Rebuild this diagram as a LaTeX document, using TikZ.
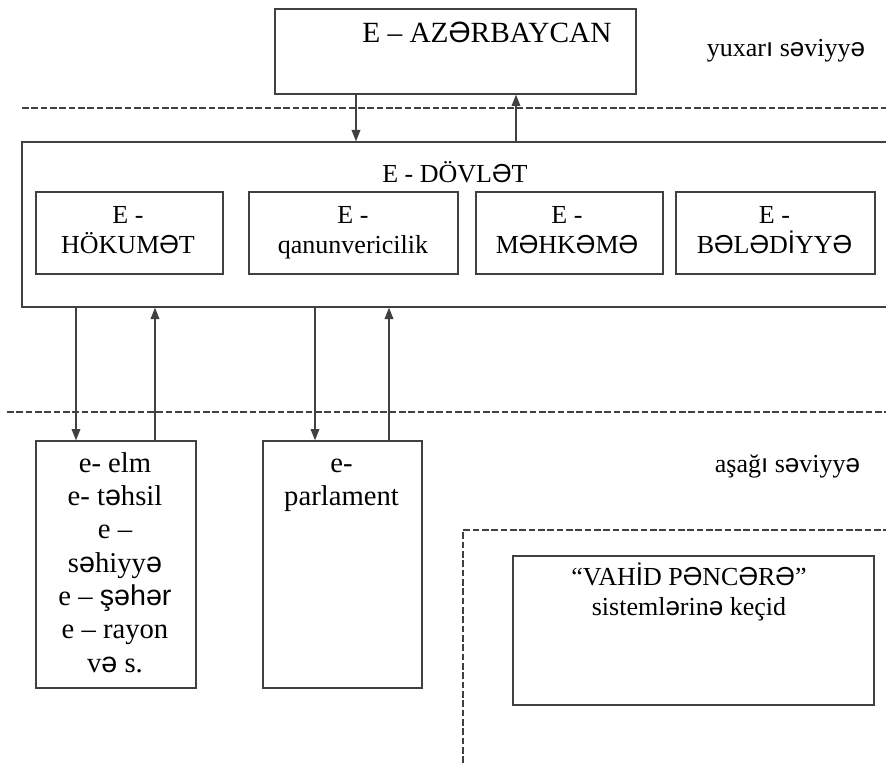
\documentclass[tikz,border=0pt]{standalone}
\usepackage{fontspec}
\setmainfont{Liberation Serif}
\newfontfamily\altsans{Liberation Sans}
\usetikzlibrary{arrows.meta,fit}
% Azerbaijani letters set in the sans face
\newcommand\schw{{\altsans ə}}
\newcommand\Schw{{\altsans Ə}}
\newcommand\Idot{{\altsans İ}}
\newcommand\dotlessi{{\altsans ı}}
\definecolor{linegray}{RGB}{64,64,64}

\begin{document}
\begin{tikzpicture}[x=0.75pt,y=-0.75pt,
  box/.style={draw=linegray, line width=1pt, rectangle, inner sep=0pt},
  arr/.style={draw=linegray, line width=1pt, -{Triangle[length=8.5pt,width=6.5pt]}},
  level/.style={draw=linegray, line width=0.9pt, dash pattern=on 5pt off 2pt},
  txt/.style={inner sep=0pt, align=center, anchor=base},
  big/.style={font=\fontsize{22pt}{26pt}\selectfont},
  mid/.style={font=\fontsize{19.5pt}{22.5pt}\selectfont},
  low/.style={font=\fontsize{21.5pt}{25pt}\selectfont}
]
\path[use as bounding box] (0,0) rectangle (886,763);
\clip (0,0) rectangle (886,763);

% level separators
\draw[level] (22,108) -- (886,108);
\draw[level] (7,412) -- (886,412);
\draw[level] (463,763) -- (463,530) -- (886,530);

% boxes
\node[box, fit={(275,9) (636,94)}] (azr) {};
\node[box, fit={(22,142) (905,307)}] (dov) {};
\node[box, fit={(36,192) (223,274)}] (hok) {};
\node[box, fit={(249,192) (458,274)}] (qan) {};
\node[box, fit={(476,192) (663,274)}] (mhk) {};
\node[box, fit={(676,192) (875,274)}] (bld) {};
\node[box, fit={(36,441) (196,688)}] (elm) {};
\node[box, fit={(263,441) (422,688)}] (prl) {};
\node[box, fit={(513,556) (874,705)}] (vah) {};

% texts (multi-line nodes are placed by the baseline of their last line)
\node[txt, big, anchor=base west] (azrT) at (362,43) {E – AZ\Schw RBAYCAN};
\node[txt, mid, anchor=base west] (dovT) at (382,183) {E - DÖVL\Schw T};
\node[txt, mid] (hokT) at (128,253) {E -\\HÖKUM\Schw T};
\node[txt, mid] (qanT) at (353,253) {E -\\qanunvericilik};
\node[txt, mid] (mhkT) at (567,253) {E -\\M\Schw HK\Schw M\Schw};
\node[txt, mid] (bldT) at (774.5,253) {E -\\B\Schw L\Schw D\Idot YY\Schw};
\node[txt, low] (elmT) at (115,672) {e- elm\\e- t\schw hsil\\e –\\s\schw hiyy\schw\\e – {\altsans şəhər}\\e – rayon\\v\schw{} s.};
\node[txt, low] (prlT) at (341.5,505.5) {e-\\parlament};
\node[txt, mid] (vahT) at (689,615) {“VAH\Idot D P\Schw NC\Schw R\Schw”\\sisteml\schw rin\schw{} keçid};
\node[txt, mid] (upL) at (786,57) {yuxar\dotlessi{} s\schw viyy\schw};
\node[txt, mid] (loL) at (787.5,472) {aşağ\dotlessi{} s\schw viyy\schw};

% connectors
\coordinate (c1) at (356,0);
\coordinate (c2) at (516,0);
\coordinate (c3) at (76,0);
\coordinate (c4) at (155,0);
\coordinate (c5) at (315,0);
\coordinate (c6) at (389,0);
\draw[arr] (azr.south -| c1) -- (dov.north -| c1);
\draw[arr] (dov.north -| c2) -- (azr.south -| c2);
\draw[arr] (dov.south -| c3) -- (elm.north -| c3);
\draw[arr] (elm.north -| c4) -- (dov.south -| c4);
\draw[arr] (dov.south -| c5) -- (prl.north -| c5);
\draw[arr] (prl.north -| c6) -- (dov.south -| c6);
\end{tikzpicture}
\end{document}
